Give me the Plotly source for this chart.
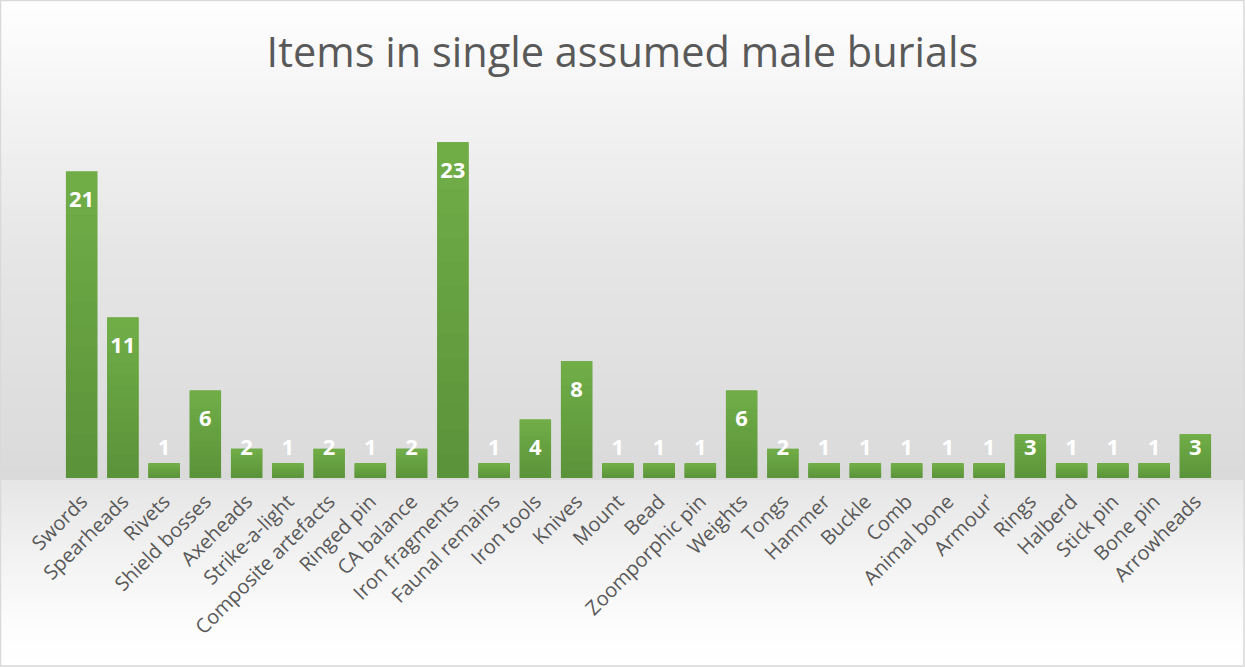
import plotly.graph_objects as go
import numpy as np

categories = ["Swords", "Spearheads", "Rivets", "Shield bosses", "Axeheads", "Strike-a-light",
              "Composite artefacts", "Ringed pin", "CA balance", "Iron fragments", "Faunal remains",
              "Iron tools", "Knives", "Mount", "Bead", "Zoomporphic pin", "Weights", "Tongs",
              "Hammer", "Buckle", "Comb", "Animal bone", "Armour'", "Rings", "Halberd",
              "Stick pin", "Bone pin", "Arrowheads"]
values = [21, 11, 1, 6, 2, 1, 2, 1, 2, 23, 1, 4, 8, 1, 1, 1, 6, 2, 1, 1, 1, 1, 1, 3, 1, 1, 1, 3]

W, H = 1245, 667
L, R, T, B = 61, 29, 113, 189
pw, ph = W - L - R, H - T - B

def px_x(p):
    return (p - L) / pw

def px_y(p):
    return (H - B - p) / ph

def lerp(c1, c2, t):
    return tuple(int(round(a + (b - a) * t)) for a, b in zip(c1, c2))

vals = np.array(values, dtype=float)
# label positions: just inside top of bar, clamped near the baseline
label_y = np.maximum(vals - 2.05, 1.92)

fig = go.Figure()
# base bar (full value) in mid colour
fig.add_trace(go.Bar(x=categories, y=vals, marker=dict(color="#66a040", line=dict(width=0)),
                     hoverinfo="x+y", width=0.76))
# per-bar vertical gradient: overlay fractional slices of each bar
top_c, bot_c = (113, 174, 72), (90, 146, 57)
N = 14
for k in range(N):
    t = (k + 0.5) / N
    c = lerp(bot_c, top_c, t)
    fig.add_trace(go.Bar(x=categories, y=vals / N, base=vals * k / N, width=0.76,
                         marker=dict(color="rgb(%d,%d,%d)" % c, line=dict(width=0)),
                         hoverinfo="skip", showlegend=False))
fig.add_trace(go.Scatter(x=categories, y=label_y, mode="text", text=[str(v) for v in values],
                         textposition="middle center",
                         textfont=dict(family="Open Sans", size=22, color="white", weight="bold"),
                         hoverinfo="skip", cliponaxis=False))

# background gradient (style only)
stops = [(0, (255, 255, 255)), (110, (243, 243, 243)), (250, (230, 230, 230)),
         (400, (222, 222, 222)), (478, (218, 218, 218)), (479, (229, 229, 229)),
         (550, (241, 241, 241)), (620, (252, 252, 252)), (667, (255, 255, 255))]
shapes = []
step = 6
for y0 in range(0, H, step):
    y1 = min(y0 + step, H)
    ym = (y0 + y1) / 2
    for i in range(len(stops) - 1):
        if stops[i][0] <= ym <= stops[i + 1][0]:
            t = (ym - stops[i][0]) / max(stops[i + 1][0] - stops[i][0], 1)
            c = lerp(stops[i][1], stops[i + 1][1], t)
            break
    shapes.append(dict(type="rect", xref="paper", yref="paper", x0=px_x(0), x1=px_x(W),
                       y0=px_y(y1), y1=px_y(y0), fillcolor="rgb(%d,%d,%d)" % c,
                       line=dict(width=0), layer="below"))
shapes.append(dict(type="rect", xref="paper", yref="paper", x0=px_x(0.5), x1=px_x(W - 1),
                   y0=px_y(H - 1), y1=px_y(0.5), line=dict(color="#d9d9d9", width=1.5),
                   fillcolor="rgba(0,0,0,0)", layer="above"))

fig.update_layout(
    width=W, height=H,
    margin=dict(l=L, r=R, t=T, b=B, autoexpand=False),
    paper_bgcolor="white", plot_bgcolor="rgba(0,0,0,0)",
    barmode="overlay", showlegend=False,
    shapes=shapes,
    title=dict(text="Items in single assumed male burials", x=0.5, xanchor="center",
               y=1 - 52 / H, yanchor="middle",
               font=dict(family="Open Sans", size=41.5, color="#595959")),
    xaxis=dict(tickangle=-45, tickfont=dict(family="Open Sans", size=20, color="#595959"),
               range=[-0.5, len(categories) - 0.5],
               showgrid=False, showline=False, zeroline=False,
               ticks="outside", ticklen=3, tickcolor="rgba(0,0,0,0)"),
    yaxis=dict(range=[0, 25], visible=False, showgrid=False, zeroline=False),
)

fig.write_html("out.html")
